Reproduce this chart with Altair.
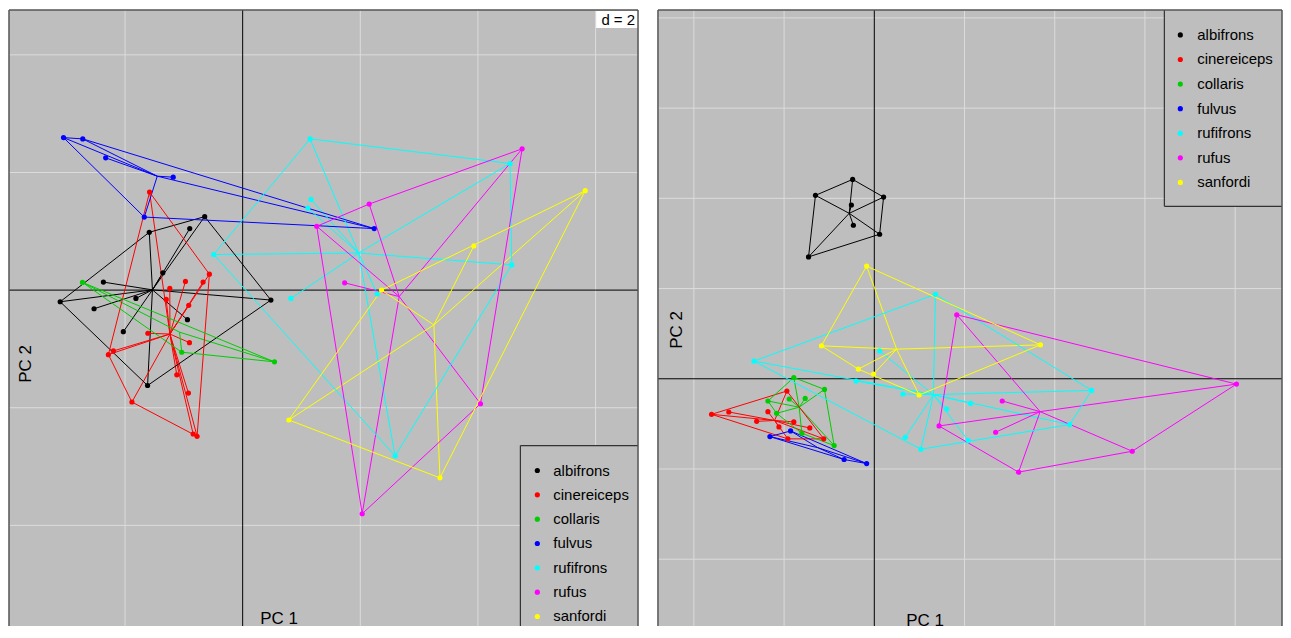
import altair as alt
import pandas as pd

SPECIES = ["albifrons", "cinereiceps", "collaris", "fulvus", "rufifrons", "rufus", "sanfordi"]
COLORS = ["#000000", "#FF0000", "#00CD00", "#0000FF", "#00FFFF", "#FF00FF", "#FFFF00"]

# ---------------- left panel (PC1 / PC2, grid d = 2) ----------------
L_albifrons_x = [-0.646, -1.588, -0.900, -1.358, -2.368, -3.103, -1.815, -2.527, -0.939, -2.029, -1.617, 0.480]
L_albifrons_y = [1.249, 0.983, 1.046, 0.293, 0.136, -0.198, -0.141, -0.317, -0.503, -0.707, -1.622, -0.169]
L_cinereiceps_x = [-1.583, -0.566, -0.973, -0.673, -1.239, -1.300, -0.917, -1.612, -0.905, -2.198, -2.283, -1.120, -0.922, -1.883, -0.842, -0.775]
L_cinereiceps_y = [1.666, 0.271, 0.147, 0.136, 0.029, -0.158, -0.259, -0.734, -0.893, -1.034, -1.097, -1.441, -1.751, -1.903, -2.446, -2.486]
L_collaris_x = [-2.724, -1.036, 0.541]
L_collaris_y = [0.131, -1.056, -1.220]
L_fulvus_x = [-3.046, -2.719, -2.329, -1.181, -1.673, 2.236]
L_fulvus_y = [2.593, 2.571, 2.249, 1.920, 1.242, 1.046]
L_rufifrons_x = [-0.493, 1.146, 1.163, 1.108, 4.547, 4.575, 0.819, 2.592, 2.286]
L_rufifrons_y = [0.605, 2.571, 1.542, 1.395, 2.153, 0.429, -0.141, -2.819, -0.063]
L_rufus_x = [4.751, 2.151, 1.259, 1.734, 4.044, 2.032]
L_rufus_y = [2.402, 1.463, 1.085, 0.124, -1.932, -3.802]
L_sanfordi_x = [5.824, 3.931, 2.361, 0.785, 3.354]
L_sanfordi_y = [1.690, 0.751, 0.000, -2.208, -3.192]

# ---------------- right panel ----------------
R_albifrons_x = [-0.240, -0.652, 0.103, -0.254, -0.232, 0.059, -0.729]
R_albifrons_y = [2.210, 2.033, 2.014, 1.926, 1.702, 1.602, 1.351]
R_cinereiceps_x = [-1.804, -1.613, -1.179, -0.969, -1.304, -0.892, -1.057, -0.715, -0.560, -0.958]
R_cinereiceps_y = [-0.394, -0.368, -0.365, -0.136, -0.472, -0.478, -0.534, -0.545, -0.666, -0.666]
R_collaris_x = [-0.892, -0.552, -1.179, -0.943, -0.766, -1.083, -0.803, -0.445]
R_collaris_y = [0.014, -0.118, -0.246, -0.224, -0.218, -0.383, -0.604, -0.740]
R_fulvus_x = [-1.157, -0.928, -0.335, -0.085]
R_fulvus_y = [-0.641, -0.578, -0.895, -0.940]
R_rufifrons_x = [0.677, -1.334, 0.059, -0.202, 0.317, 1.068, 0.803, 0.343, 0.516, 1.042, 2.409, 2.166]
R_rufifrons_y = [0.936, 0.196, 0.309, -0.025, -0.169, -0.273, -0.335, -0.649, -0.781, -0.685, -0.129, -0.508]
R_rufus_x = [0.914, 4.014, 1.418, 0.718, 1.345, 2.859, 1.599]
R_rufus_y = [0.710, -0.059, -0.246, -0.523, -0.593, -0.803, -1.035]
R_sanfordi_x = [-0.085, -0.586, 1.842, -0.177, -0.008, 0.497]
R_sanfordi_y = [1.249, 0.365, 0.376, 0.107, 0.052, -0.180]

LEFT_GRID_X = [-2, 2, 4, 6]
LEFT_GRID_Y = [-4, -2, 2, 4]
RIGHT_GRID_X = [-2, -1, 1, 2, 3, 4]
RIGHT_GRID_Y = [-2, -1, 1, 2, 3, 4]

PANEL_H = 618
LEFT_W = 631
RIGHT_W = 626
LEFT_X_DOMAIN = [-3.973, -3.973 + LEFT_W / 59.0]
LEFT_Y_DOMAIN = [4.763 - PANEL_H / 59.0, 4.763]
RIGHT_X_DOMAIN = [-2.398, -2.398 + RIGHT_W / 90.5]
RIGHT_Y_DOMAIN = [4.088 - PANEL_H / 90.5, 4.088]

FONT = "Liberation Sans"
GRID = "#DCDCDC"
BG = "#BEBEBE"
BORDER = "#555555"
LEG_BORDER = "#333333"
DOT = 27


def build_points(prefix):
    g = globals()
    rows = []
    for sp in SPECIES:
        xs = g[f"{prefix}_{sp}_x"]
        ys = g[f"{prefix}_{sp}_y"]
        for x, y in zip(xs, ys):
            rows.append({"species": sp, "x": x, "y": y})
    return pd.DataFrame(rows)


def convex_hull(pts):
    pts = sorted(set(pts))
    if len(pts) <= 2:
        return pts

    def cross(o, a, b):
        return (a[0] - o[0]) * (b[1] - o[1]) - (a[1] - o[1]) * (b[0] - o[0])

    lower = []
    for p in pts:
        while len(lower) >= 2 and cross(lower[-2], lower[-1], p) <= 0:
            lower.pop()
        lower.append(p)
    upper = []
    for p in reversed(pts):
        while len(upper) >= 2 and cross(upper[-2], upper[-1], p) <= 0:
            upper.pop()
        upper.append(p)
    return lower[:-1] + upper[:-1]


def build_hulls(df):
    rows = []
    for sp in SPECIES:
        sub = df[df.species == sp]
        h = convex_hull(list(zip(sub.x, sub.y)))
        for k, (x, y) in enumerate(h):
            rows.append({"species": sp, "x": x, "y": y, "k": k})
    return pd.DataFrame(rows)


ONE = pd.DataFrame({"v": [0]})
LEG = pd.DataFrame({"species": SPECIES})


def legend_layers(box, edges, dot_x, text_x, row_y0, row_y1):
    bx0, bx1, by0, by1 = box
    fill = alt.Fill("species:N", scale=alt.Scale(domain=SPECIES, range=COLORS), legend=None)
    rows = alt.Y("species:N", scale=alt.Scale(type="point", domain=SPECIES, range=[row_y0, row_y1], padding=0),
                 axis=None)
    out = [alt.Chart(ONE).mark_rect(color=BG).encode(
        x=alt.value(bx0), x2=alt.value(bx1), y=alt.value(by0), y2=alt.value(by1))]
    for e in edges:
        if e == "left":
            enc = dict(x=alt.value(bx0), y=alt.value(by0), y2=alt.value(by1))
        elif e == "top":
            enc = dict(x=alt.value(bx0), x2=alt.value(bx1), y=alt.value(by0))
        else:  # bottom
            enc = dict(x=alt.value(bx0), x2=alt.value(bx1), y=alt.value(by1))
        out.append(alt.Chart(ONE).mark_rule(color=LEG_BORDER, strokeWidth=1.2).encode(**enc))
    out.append(alt.Chart(LEG).mark_circle(size=DOT, opacity=1, strokeWidth=0).encode(
        x=alt.value(dot_x), y=rows, fill=fill))
    out.append(alt.Chart(LEG).mark_text(font=FONT, fontSize=15, color="#000000", align="left",
                                        baseline="middle").encode(
        x=alt.value(text_x), y=rows, text="species:N"))
    return out


def panel(prefix, xdom, ydom, gx, gy, w, h, extras):
    pts = build_points(prefix)
    hulls = build_hulls(pts)
    xs = alt.Scale(domain=xdom, nice=False, zero=False)
    ys = alt.Scale(domain=ydom, nice=False, zero=False)
    X = alt.X("x:Q", scale=xs, axis=None)
    Y = alt.Y("y:Q", scale=ys, axis=None)
    stroke = alt.Stroke("species:N", scale=alt.Scale(domain=SPECIES, range=COLORS), legend=None)
    fill = alt.Fill("species:N", scale=alt.Scale(domain=SPECIES, range=COLORS), legend=None)

    gridx = alt.Chart(pd.DataFrame({"v": gx})).mark_rule(color=GRID, strokeWidth=1).encode(
        x=alt.X("v:Q", scale=xs, axis=None))
    gridy = alt.Chart(pd.DataFrame({"v": gy})).mark_rule(color=GRID, strokeWidth=1).encode(
        y=alt.Y("v:Q", scale=ys, axis=None))
    axx = alt.Chart(ONE).mark_rule(color="#000000", strokeWidth=1).encode(
        x=alt.X("v:Q", scale=xs, axis=None))
    axy = alt.Chart(ONE).mark_rule(color="#000000", strokeWidth=1).encode(
        y=alt.Y("v:Q", scale=ys, axis=None))
    stars = alt.Chart(pts).transform_joinaggregate(
        cx="mean(x)", cy="mean(y)", groupby=["species"]
    ).mark_rule(strokeWidth=1).encode(x=X, y=Y, x2="cx:Q", y2="cy:Q", stroke=stroke)
    hl = alt.Chart(hulls).mark_line(interpolate="linear-closed", strokeWidth=1).encode(
        x=X, y=Y, stroke=stroke, order="k:Q", detail="species:N")
    dots = alt.Chart(pts).mark_circle(size=DOT, opacity=1, strokeWidth=0).encode(
        x=X, y=Y, fill=fill)
    btop = alt.Chart(ONE).mark_rule(color=BORDER, strokeWidth=1.5).encode(y=alt.value(0))
    bleft = alt.Chart(ONE).mark_rule(color=BORDER, strokeWidth=1.5).encode(x=alt.value(0))
    bright = alt.Chart(ONE).mark_rule(color=BORDER, strokeWidth=1.5).encode(x=alt.value(w))
    return alt.layer(gridx, gridy, axx, axy, stars, hl, dots, *extras, btop, bleft, bright).resolve_scale(
        y="independent").properties(width=w, height=h)


def label(text, px, py, angle=0, align="left"):
    return alt.Chart(pd.DataFrame({"t": [text]})).mark_text(
        font=FONT, fontSize=17, color="#000000", angle=angle, align=align, baseline="middle"
    ).encode(text="t:N", x=alt.value(px), y=alt.value(py))


dbox = alt.Chart(pd.DataFrame({"t": ["d = 2"]})).mark_rect(color="#FFFFFF").encode(
    x=alt.value(589), x2=alt.value(631), y=alt.value(1), y2=alt.value(18))
dtext = alt.Chart(pd.DataFrame({"t": ["d = 2"]})).mark_text(
    font=FONT, fontSize=15, color="#000000", align="right", baseline="middle"
).encode(text="t:N", x=alt.value(628), y=alt.value(10))

left_extras = [label("PC 1", 252, 611), label("PC 2", 17, 355, angle=270, align="center"), dbox, dtext]
left_extras += legend_layers((513, LEFT_W, 437, PANEL_H), ["left", "top"], 530, 546, 462, 608.4)
right_extras = [label("PC 1", 249, 613), label("PC 2", 19, 321, angle=270, align="center")]
right_extras += legend_layers((508, RIGHT_W, 0, 197), ["left", "bottom"], 524, 541, 25, 173)

left = panel("L", LEFT_X_DOMAIN, LEFT_Y_DOMAIN, LEFT_GRID_X, LEFT_GRID_Y, LEFT_W, PANEL_H, left_extras)
right = panel("R", RIGHT_X_DOMAIN, RIGHT_Y_DOMAIN, RIGHT_GRID_X, RIGHT_GRID_Y, RIGHT_W, PANEL_H, right_extras)

chart = alt.hconcat(left, right, spacing=18).properties(padding=0).configure_view(fill=BG, stroke=None)

chart.save("out.html", embed_options={"renderer": "svg", "actions": False})
